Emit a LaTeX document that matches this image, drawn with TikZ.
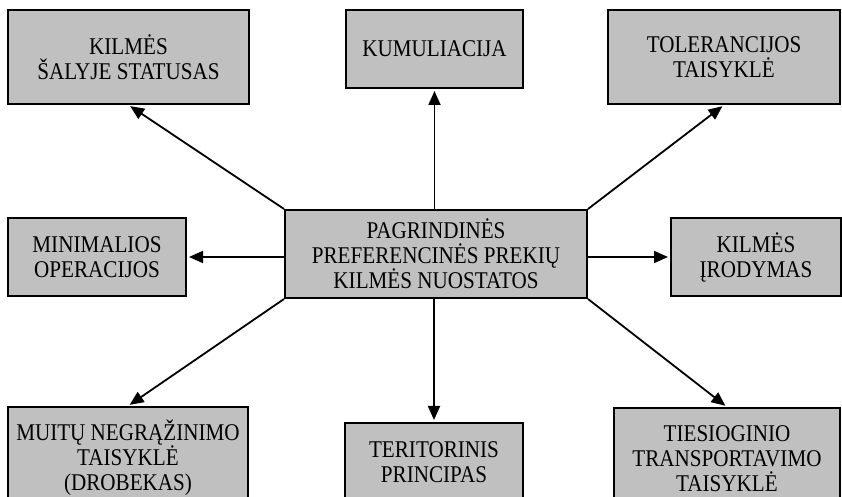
\documentclass[tikz,border=0pt]{standalone}
\usepackage{fontspec}
\setmainfont{Liberation Serif}[FakeStretch=0.88]
\usetikzlibrary{arrows.meta}
\definecolor{boxgray}{RGB}{192,192,192}

\begin{document}
\begin{tikzpicture}[x=0.5pt, y=-0.5pt,
    rulebox/.style={draw, line width=1pt, fill=boxgray, align=center, inner sep=0pt,
        font=\fontsize{12}{12.5}\selectfont},
    link/.style={line width=0.9pt, -{Triangle[length=7pt,width=6pt]}, shorten >=1pt}]

    \useasboundingbox (0,0) rectangle (842,497);

    % Centre
    \node[rulebox, minimum width=151pt, minimum height=44pt] (core) at (436,254)
        {PAGRINDINĖS\\PREFERENCINĖS PREKIŲ\\KILMĖS NUOSTATOS};

    % Top row
    \node[rulebox, minimum width=120.5pt, minimum height=47pt] (status) at (128.5,57)
        {KILMĖS\\ŠALYJE STATUSAS};
    \node[rulebox, minimum width=88.5pt, minimum height=39pt] (kumul) at (434.5,49)
        {KUMULIACIJA};
    \node[rulebox, minimum width=116pt, minimum height=47pt] (toler) at (724,57)
        {TOLERANCIJOS\\TAISYKLĖ};

    % Middle row
    \node[rulebox, minimum width=89pt, minimum height=39pt] (minop) at (97,257)
        {MINIMALIOS\\OPERACIJOS};
    \node[rulebox, minimum width=85pt, minimum height=39pt] (proof) at (756,257)
        {KILMĖS\\ĮRODYMAS};

    % Bottom row
    \node[rulebox, minimum width=120pt, minimum height=51pt] (drawback) at (128,458)
        {MUITŲ NEGRĄŽINIMO\\TAISYKLĖ\\(DROBEKAS)};
    \node[rulebox, minimum width=89pt, minimum height=39pt] (terit) at (434,462)
        {TERITORINIS\\PRINCIPAS};
    \node[rulebox, minimum width=113pt, minimum height=51pt] (transp) at (727,459)
        {TIESIOGINIO\\TRANSPORTAVIMO\\TAISYKLĖ};

    % ================================
    % Arrows
    \draw[link] (core.north west) -- (status.south);
    \draw[link] (core.north -| kumul.south) -- (kumul.south);
    \draw[link] (core.north east) -- (toler.south);

    \draw[link] (minop.east -| core.west) -- (minop.east);
    \draw[link] (proof.west -| core.east) -- (proof.west);

    \draw[link] (core.south west) -- (drawback.north);
    \draw[link] (core.south -| terit.north) -- (terit.north);
    \draw[link] (core.south east) -- (transp.north);

\end{tikzpicture}
\end{document}
